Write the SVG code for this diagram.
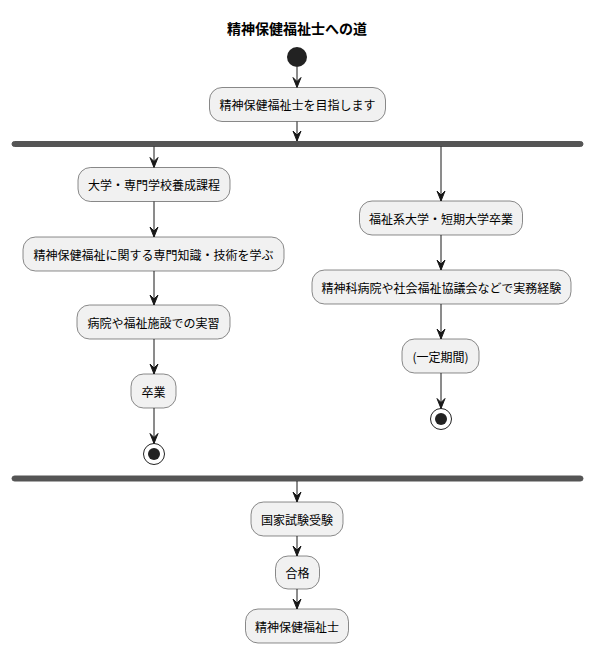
<svg xmlns="http://www.w3.org/2000/svg" width="593" height="653" viewBox="0 0 593 653">
<defs>
<style>
.box{fill:#F1F1F1;stroke:#181818;stroke-width:0.5}
.t{font-family:"Noto Sans CJK JP","Noto Sans",sans-serif;font-size:12px;fill:#000;text-anchor:middle;dominant-baseline:central}
.title{font-family:"Noto Sans CJK JP","Noto Sans",sans-serif;font-size:14px;font-weight:bold;fill:#000;text-anchor:middle;dominant-baseline:central}
.bar{fill:#555555;stroke:#555555;stroke-width:1}
.ln{stroke:#181818;stroke-width:1;fill:none}
.ah{fill:#181818;stroke:#181818;stroke-width:1}
</style>
</defs>
<rect width="593" height="653" fill="#FFFFFF"/>
<text class="title" x="297" y="28">精神保健福祉士への道</text>

<g id="start"><circle cx="297" cy="57" r="10" fill="#222222"/></g>

<g id="n1"><rect class="box" x="209.5" y="87.5" width="176" height="34" rx="12.5"/><text class="t" x="297.5" y="104.5">精神保健福祉士を目指します</text></g>

<g id="fork"><rect class="bar" x="12" y="141.5" width="571" height="5" rx="2.5"/></g>

<g id="a1"><rect class="box" x="78" y="167.5" width="152" height="34" rx="12.5"/><text class="t" x="154" y="184.5">大学・専門学校養成課程</text></g>
<g id="a2"><rect class="box" x="23" y="237" width="261" height="34" rx="12.5"/><text class="t" x="153.5" y="254">精神保健福祉に関する専門知識・技術を学ぶ</text></g>
<g id="a3"><rect class="box" x="77" y="305" width="153" height="34" rx="12.5"/><text class="t" x="153.5" y="322">病院や福祉施設での実習</text></g>
<g id="a4"><rect class="box" x="131" y="374" width="45" height="34" rx="12.5"/><text class="t" x="153.5" y="391">卒業</text></g>
<g id="endA"><circle cx="154" cy="454" r="10.5" fill="none" stroke="#222222" stroke-width="1"/><circle cx="154" cy="454" r="6" fill="#222222"/></g>

<g id="b1"><rect class="box" x="359.5" y="201" width="163" height="34" rx="12.5"/><text class="t" x="441" y="218">福祉系大学・短期大学卒業</text></g>
<g id="b2"><rect class="box" x="312" y="270" width="259" height="34" rx="12.5"/><text class="t" x="441.5" y="287">精神科病院や社会福祉協議会などで実務経験</text></g>
<g id="b3"><rect class="box" x="402" y="339" width="77" height="34" rx="12.5"/><text class="t" x="440.5" y="356">(一定期間)</text></g>
<g id="endB"><circle cx="441" cy="419" r="10.5" fill="none" stroke="#222222" stroke-width="1"/><circle cx="441" cy="419" r="6" fill="#222222"/></g>

<g id="join"><rect class="bar" x="12" y="476" width="571" height="5" rx="2.5"/></g>

<g id="c1"><rect class="box" x="251" y="502" width="92" height="34" rx="12.5"/><text class="t" x="297" y="519">国家試験受験</text></g>
<g id="c2"><rect class="box" x="275.5" y="556" width="44" height="33" rx="12.5"/><text class="t" x="297.5" y="572.5">合格</text></g>
<g id="c3"><rect class="box" x="245.5" y="609" width="103" height="34" rx="12.5"/><text class="t" x="297" y="626">精神保健福祉士</text></g>

<g id="connectors">
<path class="ln" d="M297 67 V87"/><path class="ah" d="M293 77.5 L297 87.5 L301 77.5 L297 81.5 Z"/>
<path class="ln" d="M297 121.5 V141"/><path class="ah" d="M293 131 L297 141 L301 131 L297 135 Z"/>
<path class="ln" d="M154 146.5 V167"/><path class="ah" d="M150 157.5 L154 167.5 L158 157.5 L154 161.5 Z"/>
<path class="ln" d="M154 201.5 V237"/><path class="ah" d="M150 227 L154 237 L158 227 L154 231 Z"/>
<path class="ln" d="M154 271 V305"/><path class="ah" d="M150 295 L154 305 L158 295 L154 299 Z"/>
<path class="ln" d="M154 339 V374"/><path class="ah" d="M150 364 L154 374 L158 364 L154 368 Z"/>
<path class="ln" d="M154 408 V443"/><path class="ah" d="M150 433.5 L154 443.5 L158 433.5 L154 437.5 Z"/>
<path class="ln" d="M441 146.5 V201"/><path class="ah" d="M437 191 L441 201 L445 191 L441 195 Z"/>
<path class="ln" d="M441 235 V270"/><path class="ah" d="M437 260 L441 270 L445 260 L441 264 Z"/>
<path class="ln" d="M441 304 V339"/><path class="ah" d="M437 329 L441 339 L445 329 L441 333 Z"/>
<path class="ln" d="M441 373 V408"/><path class="ah" d="M437 398.5 L441 408.5 L445 398.5 L441 402.5 Z"/>
<path class="ln" d="M297 481 V502"/><path class="ah" d="M293 492 L297 502 L301 492 L297 496 Z"/>
<path class="ln" d="M297 536 V556"/><path class="ah" d="M293 546 L297 556 L301 546 L297 550 Z"/>
<path class="ln" d="M297 589 V609"/><path class="ah" d="M293 599 L297 609 L301 599 L297 603 Z"/>
</g>
</svg>
